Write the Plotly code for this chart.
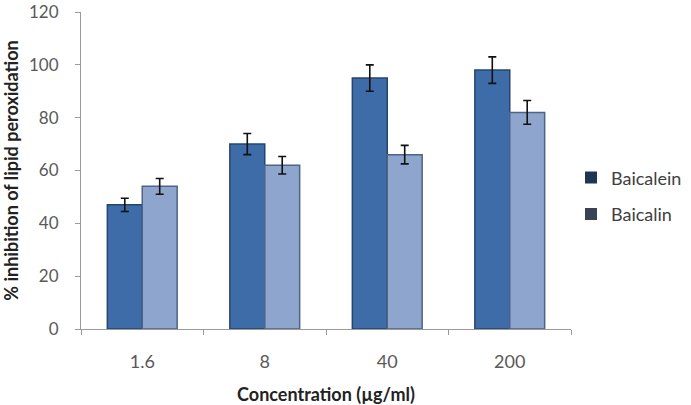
import plotly.graph_objects as go

categories = ["1.6", "8", "40", "200"]
baicalein = [47, 70, 95, 98]
baicalein_err = [2.5, 4, 5, 5]
baicalin = [54, 62, 66, 82]
baicalin_err = [3, 3.3, 3.5, 4.5]
series_names = ["Baicalein", "Baicalin"]

font = "Lato, 'Open Sans', sans-serif"
fig = go.Figure()
fig.add_trace(go.Bar(x=categories, y=baicalein, name=series_names[0], showlegend=False,
                     marker=dict(color="#3d6ca8", line=dict(color="#26456e", width=1.5)),
                     error_y=dict(type="data", array=baicalein_err, color="#111111", thickness=1.6, width=4)))
fig.add_trace(go.Bar(x=categories, y=baicalin, name=series_names[1], showlegend=False,
                     marker=dict(color="#8ea5cd", line=dict(color="#4e6386", width=1.5)),
                     error_y=dict(type="data", array=baicalin_err, color="#111111", thickness=1.6, width=4)))
# legend entries
fig.add_trace(go.Scatter(x=[None], y=[None], mode="markers", name=series_names[0], legendgroup="a",
                         marker=dict(symbol="square", size=10, color="#1e3654")))
fig.add_trace(go.Scatter(x=[None], y=[None], mode="markers", name=series_names[1], legendgroup="b",
                         marker=dict(symbol="square", size=10, color="#3a4258")))

fig.update_layout(
    width=691, height=405,
    margin=dict(l=81, r=120, t=12, b=76, autoexpand=False),
    paper_bgcolor="white", plot_bgcolor="white",
    barmode="group", bargap=0.43, bargroupgap=0,
    font=dict(family=font, color="#595959", size=18),
    legend=dict(x=1.0, y=0.42, xanchor="left", yanchor="middle",
                font=dict(family=font, size=18, color="#404040"),
                itemsizing="constant", tracegroupgap=10, itemwidth=30),
    xaxis=dict(type="category", showline=True, linecolor="#9a9a9a", linewidth=1,
               ticks="outside", tickson="boundaries", ticklen=5, tickcolor="#9a9a9a",
               ticklabelstandoff=16, showgrid=False, automargin=True,
               title=dict(text="<b>Concentration (µg/ml)</b>", standoff=25,
                          font=dict(family=font, size=18, color="#222222"))),
    yaxis=dict(range=[0, 120], tickvals=[0, 20, 40, 60, 80, 100, 120], showline=True,
               linecolor="#9a9a9a", linewidth=1, ticks="outside", ticklen=5, tickcolor="#9a9a9a",
               showgrid=False, zeroline=False, ticklabelstandoff=13, automargin=False,
               ticklabeloverflow="allow", tickfont=dict(size=17),
               title=dict(text="<b>% inhibition of lipid peroxidation</b>", standoff=8,
                          font=dict(family=font, size=18, color="#222222"))),
)
fig.write_html("out.html")
